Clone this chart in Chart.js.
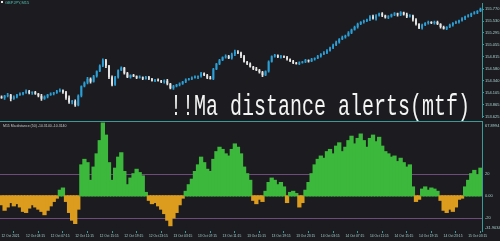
<!DOCTYPE html>
<html>
<head>
<meta charset="utf-8">
<script src="https://cdn.jsdelivr.net/npm/chart.js@4.4.0/dist/chart.umd.min.js"></script>
<style>
  html, body { margin: 0; padding: 0; background: #1c1c20; }
  #wrap { position: relative; width: 500px; height: 241px; overflow: hidden; }
  #priceChart { position: absolute; left: 0; top: 0; }
  #distChart { position: absolute; left: 0; top: 117px; }
</style>
</head>
<body>
<div id="wrap">
  <canvas id="priceChart" width="500" height="121"></canvas>
  <canvas id="distChart" width="500" height="124"></canvas>
</div>
<script>
// GBPJPY M15 closes (one bar = 30 min here)
const firstOpen = 154.02;
const closes = [
  154.00, 154.04, 154.06, 153.98, 154.02, 154.06, 154.08, 154.10, 154.13, 154.10,
  154.11, 154.08, 154.04, 153.98, 154.02, 154.06, 154.08, 154.10, 154.13, 154.15,
  154.11, 154.00, 153.91, 153.93, 153.85, 154.04, 154.23, 154.30, 154.38, 154.32,
  154.43, 154.53, 154.64, 154.75, 154.64, 154.41, 154.26, 154.41, 154.55, 154.60,
  154.49, 154.41, 154.45, 154.43, 154.40, 154.41, 154.38, 154.41, 154.38,
  154.34, 154.36, 154.34, 154.32, 154.34, 154.28, 154.19, 154.23, 154.26, 154.28,
  154.32, 154.36, 154.38, 154.40, 154.41, 154.43, 154.49, 154.45, 154.40, 154.38,
  154.57, 154.68, 154.75, 154.81, 154.83, 154.79, 154.87, 154.92, 154.90, 154.83,
  154.72, 154.68, 154.62, 154.58, 154.55, 154.51, 154.45, 154.53, 154.72,
  154.83, 154.85, 154.81, 154.83, 154.81, 154.77, 154.73, 154.70, 154.68, 154.70,
  154.72, 154.75, 154.73, 154.77, 154.79, 154.83, 154.87, 154.90, 154.94, 155.00,
  155.05, 155.11, 155.17, 155.21, 155.24, 155.30, 155.36, 155.41, 155.47, 155.51,
  155.53, 155.56, 155.62, 155.58, 155.64, 155.68, 155.64, 155.60, 155.62,
  155.66, 155.68, 155.66, 155.70, 155.66, 155.62, 155.64, 155.56, 155.47, 155.39,
  155.45, 155.49, 155.51, 155.49, 155.51, 155.47, 155.41, 155.38, 155.41, 155.45,
  155.49, 155.51, 155.54, 155.58, 155.62, 155.64, 155.68, 155.70, 155.73, 155.77
];
// wick lengths above / below the body, in 0.01
const wickHi = [
  2, 1, 3, 1, 2, 1, 2, 1, 3, 2,  1, 2, 1, 3, 2, 1, 2, 1, 2, 3,
  1, 2, 4, 2, 3, 2, 1, 2, 3, 2,  2, 1, 2, 3, 2, 1, 3, 2, 1, 2,
  1, 2, 1, 2, 1, 3, 1, 2, 2, 1,  1, 2, 1, 2, 3, 1, 2, 1, 2, 1,
  2, 1, 2, 3, 1, 2, 1, 2, 3, 2,  1, 2, 1, 3, 2, 2, 3, 2, 1, 2,
  1, 2, 1, 3, 2, 2, 1, 2, 1, 2,  1, 2, 1, 2, 1, 2, 1, 2, 1, 2,
  1, 2, 1, 2, 1, 2, 2, 1, 2, 2,  1, 2, 1, 2, 1, 2, 2, 1, 2, 1,
  2, 3, 2, 1, 2, 1, 2, 1, 2, 1,  2, 1, 3, 2, 1, 2, 1, 2, 1, 2,
  1, 2, 2, 1, 2, 1, 2, 1, 2, 1,  2, 1, 2, 1, 2, 1, 2
];
const wickLo = [
  1, 3, 2, 4, 1, 2, 1, 2, 1, 2,  3, 1, 2, 3, 1, 2, 1, 2, 1, 1,
  2, 3, 2, 3, 2, 1, 2, 1, 2, 3,  1, 2, 1, 2, 4, 3, 2, 1, 2, 1,
  2, 1, 2, 1, 2, 1, 2, 1, 2, 1,  2, 1, 2, 3, 2, 1, 2, 1, 2, 1,
  2, 1, 2, 1, 3, 2, 1, 2, 1, 2,  1, 2, 1, 2, 1, 2, 3, 2, 3, 1,
  2, 1, 2, 1, 2, 3, 1, 2, 1, 2,  1, 2, 1, 2, 1, 2, 1, 2, 1, 2,
  2, 1, 2, 1, 2, 1, 2, 1, 2, 1,  2, 1, 2, 1, 2, 1, 2, 1, 2, 1,
  2, 1, 3, 1, 2, 1, 2, 1, 2, 3,  2, 1, 2, 1, 3, 2, 1, 2, 1, 2,
  1, 2, 1, 2, 1, 2, 1, 2, 1, 2,  1, 2, 1, 2, 1, 2, 1
];
// Ma distance (50) histogram
const maDistance = [
  -8, -13, -10, -6, -9, -7, -10, -14, -15, -11,
  -8, -10, -12, -14, -17, -13, -9, -5, -2, 5,
  7, -5, -15, -22, -25, -12, 28, 33, 30, 14,
  26, 38, 50, 66, 55, 30, 14, 25, 35, 39,
  22, 10, 16, 20, 24, 21, 18, 3, -4,
  -7, -6, -9, -12, -16, -22, -27, -20, -15, -8,
  -2, 4, 10, 15, 22, 28, 35, 30, 24, 22,
  33, 40, 44, 42, 38, 36, 42, 47, 44, 38,
  26, 20, 14, -4, -7, -3, -5, 4, 12,
  16, 14, 10, 12, 8, -6, 3, 4, 2, -10,
  -6, 5, 12, 20, 28, 33, 36, 34, 40, 42,
  38, 45, 48, 40, 44, 50, 54, 47, 52, 56,
  50, 44, 52, 55, 49, 53, 45, 40, 38,
  35, 36, 31, 34, 30, 26, 28, 8, -5, -3,
  6, 8, 5, 7, 6, 4, -4, -13, -15, -12,
  -14, -10, -3, -2, 8, 14, 20, 23, 19, 25
];
const priceTicks = ['155.770', '155.530', '155.295', '155.055', '154.815', '154.580', '154.340', '154.105', '153.865', '153.625'];
const distTickValues = [67.8994, 20, 0, -20, -31.9034];
const distTickText = ['67.8994', '20', '0.00', '-20', '-31.9034'];
const timeTicks = ['12 Oct 2021', '12 Oct 03:15', '12 Oct 07:15', '12 Oct 11:15', '12 Oct 15:15', '12 Oct 19:15',
  '12 Oct 23:15', '13 Oct 03:15', '13 Oct 07:15', '13 Oct 11:15', '13 Oct 15:15', '13 Oct 19:15', '13 Oct 23:15',
  '14 Oct 03:15', '14 Oct 07:15', '14 Oct 11:15', '14 Oct 15:15', '14 Oct 19:15', '14 Oct 23:15', '15 Oct 03:15'];

const bg = '#1c1c20';
const axisLine = '#3a9a9a';
const axisText = '#a8d0d0';
const bullColor = '#2b9fd6';
const bearColor = '#e6e6e6';
const posColor = '#3cb83c';
const negColor = '#dc9c1e';
const levelColor = '#704a7c';

const barLabels = closes.map((c, i) => 'bar ' + i);
const opens = closes.map((c, i) => i === 0 ? firstOpen : closes[i - 1]);
const bodies = closes.map((c, i) => [opens[i], c]);
const wicks = closes.map((c, i) => [Math.min(opens[i], c) - (wickLo[i] || 0) / 100, Math.max(opens[i], c) + (wickHi[i] || 0) / 100]);
const candleColors = closes.map((c, i) => c >= opens[i] ? bullColor : bearColor);

Chart.defaults.font.family = '"Liberation Sans", Arial, sans-serif';

// text on the price window
const priceText = {
	id: 'priceText',
	afterDraw(chart) {
		const ctx = chart.ctx;
		ctx.save();
		ctx.fillStyle = '#e8e8e8';
		ctx.fillRect(1, 1, 2, 2);
		ctx.font = '4px "Liberation Sans"';
		ctx.fillStyle = '#4fc0b0';
		ctx.textBaseline = 'top';
		ctx.fillText('GBPJPY,M15', 5, 0.5);
		ctx.translate(170, 115);
		ctx.scale(1, 1.45);
		ctx.font = '20px "Liberation Mono"';
		ctx.fillStyle = '#f4f4f4';
		ctx.textBaseline = 'alphabetic';
		ctx.fillText('!!Ma distance alerts(mtf)', 0, 0);
		ctx.restore();
	}
};

new Chart(document.getElementById('priceChart'), {
	type: 'bar',
	data: {
		labels: barLabels,
		datasets: [{
			data: wicks,
			backgroundColor: candleColors,
			barThickness: 1,
			grouped: false,
			order: 2
		}, {
			data: bodies,
			backgroundColor: candleColors,
			barPercentage: 0.6,
			categoryPercentage: 1,
			minBarLength: 1,
			grouped: false,
			order: 1
		}]
	},
	options: {
		responsive: false,
		animation: false,
		devicePixelRatio: 1,
		layout: { padding: 0 },
		plugins: { legend: { display: false }, tooltip: { enabled: false } },
		scales: {
			x: { display: false },
			y: {
				position: 'right',
				min: 153.606,
				max: 155.883,
				afterBuildTicks: s => { s.ticks = priceTicks.map(t => ({ value: parseFloat(t) })); },
				afterFit: s => { s.width = 18; },
				ticks: { callback: (v, i) => priceTicks[i], font: { size: 4 }, color: axisText, padding: 1 },
				grid: { drawOnChartArea: false, drawTicks: true, tickLength: 2, color: axisLine },
				border: { display: true, color: axisLine }
			}
		}
	},
	plugins: [priceText]
});

// levels, separator and labels on the indicator window
const distDecor = {
	id: 'distDecor',
	beforeDatasetsDraw(chart) {
		const { ctx, chartArea, scales: { y } } = chart;
		ctx.save();
		ctx.strokeStyle = levelColor;
		ctx.lineWidth = 1;
		[20, -20].forEach(v => {
			const py = Math.round(y.getPixelForValue(v)) + 0.5;
			ctx.beginPath();
			ctx.moveTo(chartArea.left, py);
			ctx.lineTo(chartArea.right, py);
			ctx.stroke();
		});
		ctx.restore();
	},
	afterDraw(chart) {
		const { ctx, chartArea, scales: { y } } = chart;
		ctx.save();
		ctx.strokeStyle = axisLine;
		ctx.beginPath();
		ctx.moveTo(0, chartArea.top + 0.5);
		ctx.lineTo(chartArea.right, chartArea.top + 0.5);
		ctx.stroke();
		ctx.font = '4px "Liberation Sans"';
		ctx.fillStyle = axisText;
		ctx.textBaseline = 'middle';
		distTickValues.forEach((v, i) => {
			let py = y.getPixelForValue(v);
			if (i === 0) py += 5;
			if (i === distTickValues.length - 1) py -= 3;
			ctx.fillText(distTickText[i], chartArea.right + 3, py);
		});
		ctx.fillStyle = '#c8c8c8';
		ctx.font = '3.5px "Liberation Sans"';
		ctx.fillText('M15 Ma distance (50) -10.3140 -10.3140', 3, chartArea.top + 5);
		ctx.restore();
	}
};

new Chart(document.getElementById('distChart'), {
	type: 'bar',
	data: {
		labels: barLabels,
		datasets: [{
			data: maDistance,
			backgroundColor: maDistance.map(v => v >= 0 ? posColor : negColor),
			barPercentage: 1,
			categoryPercentage: 1,
			inflateAmount: 0.6,
			borderWidth: 0
		}]
	},
	options: {
		responsive: false,
		animation: false,
		devicePixelRatio: 1,
		layout: { padding: { top: 4 } },
		plugins: { legend: { display: false }, tooltip: { enabled: false } },
		scales: {
			x: {
				afterFit: s => { s.height = 10; },
				ticks: {
					autoSkip: false,
					maxRotation: 0,
					align: 'start',
					padding: 1,
					font: { size: 3.3 },
					color: axisText,
					callback: (v, i) => i % 8 === 0 ? timeTicks[i / 8] : null
				},
				grid: { drawOnChartArea: false, drawTicks: true, tickLength: 2, color: axisLine },
				border: { display: false }
			},
			y: {
				position: 'right',
				min: -31.9034,
				max: 67.8994,
				afterFit: s => { s.width = 18; },
				ticks: { display: false },
				grid: { display: false },
				border: { display: true, color: axisLine }
			}
		}
	},
	plugins: [distDecor]
});
</script>
</body>
</html>
